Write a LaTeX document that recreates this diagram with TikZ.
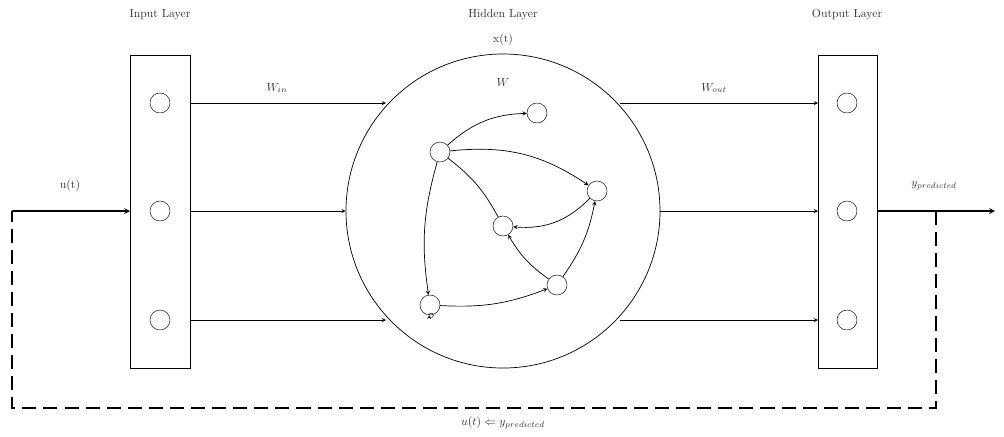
\documentclass[tikz,border=0pt]{standalone}
\begin{document}
\begin{tikzpicture}[x=0.03cm,y=-0.03cm,>=stealth,
 neu/.style={circle,draw,minimum size=0.6cm,inner sep=0pt},
 lbl/.style={text=black!80},
 conn/.style={->,semithick}]
\useasboundingbox (0,0) rectangle (1004,436);
\node[lbl] (tin) at (160,15) {Input Layer};
\node[lbl] (thid) at (503,15) {Hidden Layer};
\node[lbl] (tout) at (847,15) {Output Layer};
\node[lbl] (xt) at (503,40) {x(t)};
\draw[semithick] (130,55) rectangle (190,368);
\draw[semithick] (818,55) rectangle (877,368);
\node[circle,draw,semithick,minimum size=9.42cm] (res) at (503,211) {};
\foreach \y/\n in {103/1,211/2,320/3}{
 \node[neu] (i\n) at (160,\y) {};
 \node[neu] (o\n) at (847,\y) {};
 \coordinate (il\n) at (190,\y);
 \coordinate (ol\n) at (818,\y);
}
\coordinate (h1) at (386,103); \coordinate (h3) at (386,320);
\coordinate (g1) at (620,103); \coordinate (g3) at (620,320);
\draw[conn] (il1) -- (h1);
\draw[conn] (il2) -- (res.west);
\draw[conn] (il3) -- (h3);
\draw[conn] (g1) -- (ol1);
\draw[conn] (res.east) -- (ol2);
\draw[conn] (g3) -- (ol3);
\node[lbl] (win) at (277,88) {$W_{in}$};
\node[lbl] (wout) at (714,88) {$W_{out}$};
\node[lbl] (w) at (503,82) {$W$};
\node[neu] (A) at (537,113) {};
\node[neu] (B) at (440,152) {};
\node[neu] (C) at (597,191) {};
\node[neu] (D) at (503,226) {};
\node[neu] (E) at (557,285) {};
\node[neu] (F) at (430,305) {};
\draw[conn] (B) to[bend left=20] (A);
\draw[conn] (B) to[bend left=20] (C);
\draw[conn] (B) to[bend right=12] (F);
\draw[semithick] (B) to[bend left=12] (D);
\draw[conn] (C) to[bend left=25] (D);
\draw[conn] (E) to[bend left=12] (D);
\draw[conn] (E) to[bend right=12] (C);
\draw[conn] (F) to[bend right=12] (E);
\draw[->,thin] (F.south) ++(-1,0) arc (180:540:2.2) ;
\coordinate (ul) at (12,211);
\coordinate (yr) at (995,211);
\coordinate (fb) at (936,211);
\draw[->,very thick] (ul) -- (130,211);
\draw[->,very thick] (877,211) -- (yr);
\draw[very thick,dashed,dash pattern=on 12pt off 6pt] (fb) -- (936,408) -- (12,408) -- (ul);
\node[lbl] (ut) at (70,186) {u(t)};
\node[lbl] (yp) at (934,186) {$y_{predicted}$};
\node[lbl] (fbl) at (503,423) {$u(t) \Leftarrow y_{predicted}$};
\end{tikzpicture}
\end{document}
